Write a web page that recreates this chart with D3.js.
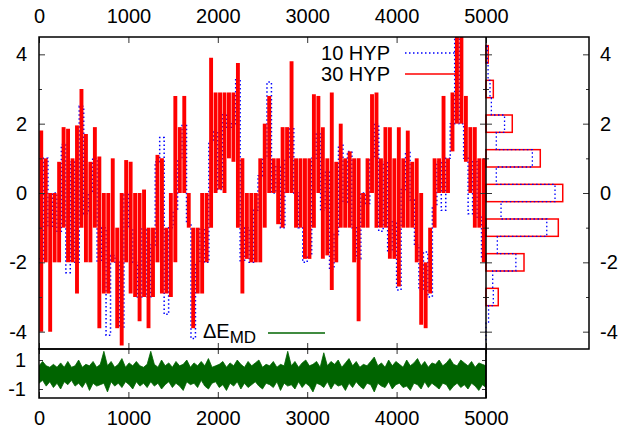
<!DOCTYPE html>
<html>
<head>
<meta charset="utf-8">
<script src="https://cdn.jsdelivr.net/npm/d3@7/dist/d3.min.js"></script>
<style>
  body { margin: 0; background: #fff; }
  text { font-family: "Liberation Sans", Arial, Helvetica, sans-serif; }
</style>
</head>
<body>
<svg id="chart" width="621" height="428"></svg>
<script>
// 30 HYP trace, read per 50-step window: upper and lower envelope
const red30Hi = [1.8,1.0,0.0,0.0,0.9,1.9,1.85,1.0,1.95,3.0,
  1.7,0.9,1.9,1.05,0.0,0.0,1.0,-1.0,0.0,0.95,
  0.9,0.0,0.0,0.1,-1.0,-1.0,1.1,1.0,-1.0,0.0,
  2.8,1.9,2.8,0.0,-1.0,-1.0,0.0,0.0,3.9,2.9,
  2.9,2.9,2.9,2.9,3.75,1.0,0.0,0.0,0.0,1.0,
  2.0,2.8,1.0,1.0,1.9,1.9,3.8,1.0,1.0,1.0,
  1.0,2.85,2.8,1.9,1.0,2.9,0.9,2.0,1.0,1.2,
  1.0,1.0,0.0,1.0,2.85,2.9,1.0,1.9,1.9,1.0,
  1.9,1.0,1.8,0.9,1.0,0.0,-2.0,-1.0,1.0,1.0,
  2.8,1.0,2.9,4.6,4.6,2.8,1.9,1.9,1.0,1.0];
const red30Lo = [-4.0,-2.0,-4.0,-2.0,-2.0,-1.0,-2.0,-2.0,-2.9,-1.0,
  -2.0,-2.0,-1.0,-3.9,-2.9,-2.9,-2.0,-3.9,-4.4,-2.0,
  -2.9,-3.0,-3.7,-3.0,-3.9,-3.0,-2.0,-2.9,-2.9,-3.0,
  -2.0,0.0,0.0,-1.0,-3.9,-2.9,-2.9,-2.0,-1.0,0.0,
  0.1,0.0,1.0,0.9,-1.0,-2.9,-1.9,-2.0,-2.0,-2.0,
  -1.0,0.0,0.0,-0.9,-1.0,0.0,0.0,-1.0,-1.0,-1.9,
  -1.9,-1.0,0.0,-1.9,-1.8,-2.8,-2.0,-1.0,-1.0,-1.0,
  -2.0,-3.7,-1.0,-1.0,0.0,-1.0,-1.0,-1.0,-1.9,-1.9,
  -2.7,-1.0,-1.0,-1.0,-2.0,-3.8,-3.9,-2.9,-1.0,0.0,
  0.0,0.0,1.2,2.0,2.0,0.9,0.0,-1.0,-1.0,-2.0];

// 10 HYP trace, one value per 50 steps
const blue10 = [-1.9,1.0,-1.0,0.0,-1.1,1.4,-2.3,0.9,-2.0,2.5,
  -0.6,0.0,1.0,-2.0,-1.0,-4.1,-1.8,-2.0,-3.9,0.0,
  -1.0,-2.0,-3.0,-1.0,-3.0,-1.5,0.9,1.6,-3.5,-1.0,
  -0.5,1.0,2.0,-0.9,-4.2,-2.0,-1.0,-2.0,1.5,1.8,
  0.1,2.3,1.9,2.0,3.3,-2.0,-1.0,-2.0,-0.5,0.5,
  1.0,3.2,0.0,0.8,-1.0,1.0,1.9,0.0,-1.0,-2.0,
  -1.8,1.0,1.7,-0.5,0.6,-2.2,-1.2,1.4,-0.3,1.2,
  -1.0,-1.9,0.0,-0.3,1.0,2.0,-1.1,0.9,-1.7,-0.8,
  -2.8,0.1,1.2,-0.2,-1.5,-2.8,-1.7,-3.0,-0.4,0.9,
  -0.5,1.0,2.0,4.6,2.0,1.0,-0.6,0.9,-0.7,-1.9];

// Delta E_MD, upper and lower edge per 40 steps
const deltaEHi = [0.6,0.9,0.6,0.5,0.7,0.5,0.8,0.5,0.9,0.5,
  0.6,1.0,0.5,0.7,0.6,0.9,0.5,0.7,1.6,0.6,
  0.9,0.5,0.7,1.1,0.5,0.8,0.6,0.9,0.6,0.5,
  0.7,1.6,0.7,0.5,1.0,0.6,0.8,0.5,0.9,0.6,
  0.7,1.0,0.5,0.8,0.6,0.9,0.6,1.1,0.5,0.6,
  0.7,0.9,0.5,0.8,0.6,1.0,0.7,0.5,0.9,0.6,
  0.8,1.0,0.5,0.7,0.6,0.9,0.5,0.7,0.6,1.6,
  0.6,0.9,0.5,0.8,1.0,0.6,0.7,0.9,0.5,1.5,
  0.6,0.9,0.7,1.0,0.5,0.8,1.1,0.6,0.9,0.5,
  0.7,0.6,0.9,1.2,0.6,0.8,0.5,1.0,0.6,0.9,
  0.7,0.5,1.0,0.6,0.8,1.1,0.6,0.9,0.5,0.8,
  0.7,1.0,0.6,0.8,1.1,0.7,0.6,1.0,0.8,0.6,
  0.9,0.5,0.8,0.7,0.6];
const deltaELo = [-0.6,-0.4,-0.8,-0.5,-0.9,-0.6,-1.0,-0.5,-0.7,-0.4,
  -0.8,-0.6,-0.9,-0.5,-1.1,-0.6,-0.8,-0.7,-0.6,-1.2,
  -0.5,-0.8,-0.6,-0.9,-0.5,-0.7,-1.0,-0.5,-0.8,-0.6,
  -0.9,-0.5,-0.8,-0.6,-1.0,-0.7,-0.5,-0.9,-0.6,-0.8,
  -1.1,-0.5,-0.7,-0.6,-0.9,-0.4,-0.8,-1.0,-0.6,-0.5,
  -0.9,-0.7,-1.1,-0.6,-0.8,-0.5,-1.0,-0.6,-0.9,-0.7,
  -0.5,-0.8,-1.0,-0.6,-0.7,-0.9,-0.5,-1.1,-0.6,-0.8,
  -0.7,-1.0,-0.5,-0.9,-0.6,-0.8,-1.2,-0.6,-0.7,-0.9,
  -0.5,-1.0,-0.6,-0.8,-0.7,-1.1,-0.6,-0.9,-0.5,-0.8,
  -1.0,-0.6,-0.7,-1.2,-0.6,-0.8,-0.9,-0.5,-1.0,-0.7,
  -0.6,-0.9,-0.8,-1.1,-0.6,-0.7,-1.0,-0.5,-0.9,-0.6,
  -0.8,-1.0,-0.6,-0.7,-1.1,-0.8,-0.6,-0.9,-0.7,-1.0,
  -0.6,-0.8,-1.1,-0.7,-0.9];

// histograms
const histRedBins = [4, 3, 2, 1, 0, -1, -2, -3];
const histRedVals = [0.022, 0.071, 0.255, 0.527, 0.745, 0.702, 0.369, 0.119];
const histBlueBins = [4, 3.5, 3, 2.5, 2, 1.5, 1, 0.5, 0, -0.5, -1, -1.5, -2, -2.5, -3, -3.5, -4];
const histBlueVals = [0.013, 0.02, 0.039, 0.052, 0.18, 0.10, 0.45, 0.10, 0.67, 0.146, 0.59, 0.11, 0.29, 0.065, 0.071, 0.025, 0.0];

const xTicks = [0, 1000, 2000, 3000, 4000, 5000];
const yTicksMajor = [-4, -2, 0, 2, 4];
const yTicksMinor = [-3, -1, 1, 3];
const dTicks = [-1, 1];

const main = { left: 39, right: 486, top: 37, bottom: 349 };
const histRight = 589;
const lowBottom = 398;

const svg = d3.select("#chart");

const xScale = d3.scaleLinear().domain([0, 5000]).range([main.left, main.right]);
const yScale = d3.scaleLinear().domain([-4.5, 4.5]).range([main.bottom, main.top]);
const hScale = d3.scaleLinear().domain([0, 1]).range([main.right, histRight]);
const dScale = d3.scaleLinear().domain([-1.62, 1.76]).range([lowBottom, main.bottom]);
const fmt = d => String(d);

svg.append("defs").append("clipPath").attr("id", "clipMain")
  .append("rect")
  .attr("x", main.left).attr("y", main.top)
  .attr("width", main.right - main.left).attr("height", main.bottom - main.top);
svg.select("defs").append("clipPath").attr("id", "clipLow")
  .append("rect")
  .attr("x", main.left).attr("y", main.bottom)
  .attr("width", main.right - main.left).attr("height", lowBottom - main.bottom);

// series built from the read values
let redData = red30Hi.map((v, i) => ({ t: i * 50 + 25, hi: v, lo: red30Lo[i] }));

let blueData = blue10.map((v, i) => ({ t: i * 50, v: v }));
blueData.push({ t: 5000, v: blue10[blue10.length - 1] });

let greenData = deltaEHi.map((v, i) => ({ t: i * 5000 / (deltaEHi.length - 1), hi: v, lo: deltaELo[i] }));

const plot = svg.append("g").attr("clip-path", "url(#clipMain)");
plot.append("path").datum(blueData)
  .attr("d", d3.line().x(d => xScale(d.t)).y(d => yScale(d.v)).curve(d3.curveStepAfter))
  .attr("fill", "none").attr("stroke", "#0000ff")
  .attr("stroke-width", 1.5).attr("stroke-dasharray", "1.5,2.5");
// each window drawn as one dense vertical stroke between its extremes
plot.selectAll("line.red").data(redData).join("line")
  .attr("class", "red")
  .attr("x1", d => xScale(d.t)).attr("x2", d => xScale(d.t))
  .attr("y1", d => yScale(d.hi)).attr("y2", d => yScale(d.lo))
  .attr("stroke", "#ff0000").attr("stroke-width", 3.9);

svg.append("g").attr("clip-path", "url(#clipLow)")
  .append("path").datum(greenData)
  .attr("d", d3.area().x(d => xScale(d.t)).y0(d => dScale(d.lo)).y1(d => dScale(d.hi)))
  .attr("fill", "#006400").attr("stroke", "#006400").attr("stroke-width", 0.8);

// histogram panel
const redHist = histRedBins.map((c, i) => ({ c: c, v: histRedVals[i] }));
svg.append("g").selectAll("rect").data(redHist).join("rect")
  .attr("x", hScale(0))
  .attr("y", d => yScale(d.c + 0.25))
  .attr("width", d => hScale(d.v) - hScale(0))
  .attr("height", d => yScale(d.c - 0.25) - yScale(d.c + 0.25))
  .attr("fill", "none").attr("stroke", "#ff0000").attr("stroke-width", 1.5);

let bluePts = histBlueBins.map((c, i) => ({ x: histBlueVals[i], y: c + 0.25 }));
bluePts.push({ x: histBlueVals[histBlueVals.length - 1], y: histBlueBins[histBlueBins.length - 1] - 0.25 });
svg.append("path").datum(bluePts)
  .attr("d", d3.line().x(d => hScale(d.x)).y(d => yScale(d.y)).curve(d3.curveStepBefore))
  .attr("fill", "none").attr("stroke", "#0000ff")
  .attr("stroke-width", 1.3).attr("stroke-dasharray", "1.5,2.5");

// axes
function styleAxis(g) {
  g.select(".domain").remove();
  g.selectAll("line").attr("stroke", "#333").attr("stroke-width", 1);
  g.selectAll("text").attr("font-size", 20).attr("fill", "#000")
    .attr("font-family", "'Liberation Sans', Arial, sans-serif");
}

svg.append("g").attr("transform", `translate(0,${main.top})`)
  .call(d3.axisTop(xScale).tickValues(xTicks).tickFormat(fmt).tickSize(-6).tickPadding(14))
  .call(styleAxis);
svg.append("g").attr("transform", `translate(0,${main.bottom})`)
  .call(d3.axisBottom(xScale).tickValues(xTicks).tickFormat("").tickSize(-6))
  .call(styleAxis);
svg.append("g").attr("transform", `translate(0,${main.bottom})`)
  .call(d3.axisTop(xScale).tickValues(xTicks).tickFormat("").tickSize(-5))
  .call(styleAxis);
svg.append("g").attr("transform", `translate(0,${lowBottom})`)
  .call(d3.axisBottom(xScale).tickValues(xTicks).tickFormat(fmt).tickSize(-6).tickPadding(13))
  .call(styleAxis);

svg.append("g").attr("transform", `translate(${main.left},0)`)
  .call(d3.axisLeft(yScale).tickValues(yTicksMajor).tickFormat(fmt).tickSize(-6).tickPadding(12))
  .call(styleAxis);
svg.append("g").attr("transform", `translate(${main.left},0)`)
  .call(d3.axisLeft(yScale).tickValues(yTicksMinor).tickFormat("").tickSize(-3))
  .call(styleAxis);
svg.append("g").attr("transform", `translate(${main.right},0)`)
  .call(d3.axisRight(yScale).tickValues(yTicksMajor).tickFormat("").tickSize(-6))
  .call(styleAxis);
svg.append("g").attr("transform", `translate(${main.right},0)`)
  .call(d3.axisRight(yScale).tickValues(yTicksMinor).tickFormat("").tickSize(-3))
  .call(styleAxis);
svg.append("g").attr("transform", `translate(${main.right},0)`)
  .call(d3.axisLeft(yScale).tickValues(yTicksMajor).tickFormat("").tickSize(-6))
  .call(styleAxis);
svg.append("g").attr("transform", `translate(${main.right},0)`)
  .call(d3.axisLeft(yScale).tickValues(yTicksMinor).tickFormat("").tickSize(-3))
  .call(styleAxis);
svg.append("g").attr("transform", `translate(${histRight},0)`)
  .call(d3.axisRight(yScale).tickValues(yTicksMajor).tickFormat(fmt).tickSize(-6).tickPadding(11))
  .call(styleAxis);
svg.append("g").attr("transform", `translate(${histRight},0)`)
  .call(d3.axisRight(yScale).tickValues(yTicksMinor).tickFormat("").tickSize(-3))
  .call(styleAxis);

svg.append("g").attr("transform", `translate(${main.left},0)`)
  .call(d3.axisLeft(dScale).tickValues(dTicks).tickFormat(fmt).tickSize(-4).tickPadding(13))
  .call(styleAxis);
svg.append("g").attr("transform", `translate(${main.right},0)`)
  .call(d3.axisRight(dScale).tickValues(dTicks).tickFormat("").tickSize(-4))
  .call(styleAxis);

// frames
svg.append("rect").attr("x", main.left).attr("y", main.top)
  .attr("width", histRight - main.left).attr("height", main.bottom - main.top)
  .attr("fill", "none").attr("stroke", "#000").attr("stroke-width", 1.5);
svg.append("line").attr("x1", main.right).attr("x2", main.right)
  .attr("y1", main.top).attr("y2", lowBottom)
  .attr("stroke", "#000").attr("stroke-width", 1.5);
svg.append("rect").attr("x", main.left).attr("y", main.bottom)
  .attr("width", main.right - main.left).attr("height", lowBottom - main.bottom)
  .attr("fill", "none").attr("stroke", "#000").attr("stroke-width", 1.5);

// legends
const legend = svg.append("g").attr("font-size", 20);
legend.append("text").attr("x", 390).attr("y", 60).attr("text-anchor", "end").text("10 HYP");
legend.append("line").attr("x1", 405).attr("x2", 457).attr("y1", 53).attr("y2", 53)
  .attr("stroke", "#0000ff").attr("stroke-width", 1.3).attr("stroke-dasharray", "1.5,2.5");
legend.append("text").attr("x", 390).attr("y", 81).attr("text-anchor", "end").text("30 HYP");
legend.append("line").attr("x1", 405).attr("x2", 457).attr("y1", 74).attr("y2", 74)
  .attr("stroke", "#ff0000").attr("stroke-width", 1.3);

const dLabel = legend.append("text").attr("x", 203).attr("y", 338);
dLabel.append("tspan").text("ΔE");
dLabel.append("tspan").attr("font-size", 17).attr("dy", 5).text("MD");
legend.append("line").attr("x1", 268).attr("x2", 325).attr("y1", 333).attr("y2", 333)
  .attr("stroke", "#006400").attr("stroke-width", 1.3);
</script>
</body>
</html>
